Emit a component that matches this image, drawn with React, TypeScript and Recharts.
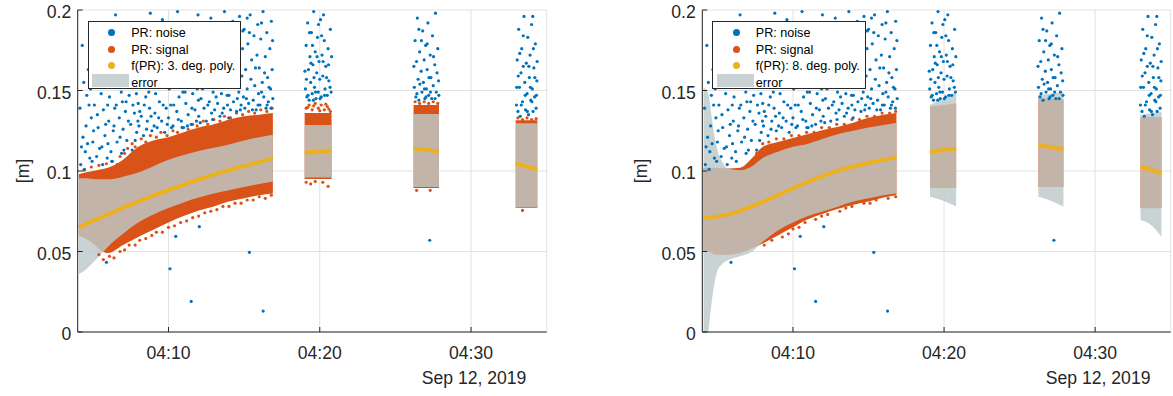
import React from "react";
import { Area, CartesianGrid, ComposedChart, Line, Scatter, XAxis, YAxis } from "recharts";

const INK = "#262626";
const BLUE = "#0072BD";
const ORANGE = "#D95319";
const YELLOW = "#EDB120";
const BAND = "rgb(189,201,201)";
const FONT = "'Liberation Sans', Arial, Helvetica, sans-serif";

// minutes after 04:00
const xTicks = [10, 20, 30];
const xTickLabels = ["04:10", "04:20", "04:30"];
const dateLabel = "Sep 12, 2019";
const yTicks = [0, 0.05, 0.1, 0.15, 0.2];
const yTickLabels = ["0", "0.05", "0.1", "0.15", "0.2"];
const legendLeft = ["PR: noise", "PR: signal", "f(PR): 3. deg. poly.", "error"];
const legendRight = ["PR: noise", "PR: signal", "f(PR): 8. deg. poly.", "error"];

// PR noise [minute, m]
const noiseRun1 = [
  [4.2, 0.104], [4.3, 0.178], [4.35, 0.121], [4.5, 0.112], [4.6, 0.147], [4.7, 0.163], [4.8, 0.108], [4.9, 0.133], [5.0, 0.118],
  [5.1, 0.141], [5.2, 0.152], [5.25, 0.109], [5.35, 0.127], [5.4, 0.192], [5.5, 0.168], [5.6, 0.115], [5.7, 0.138], [5.8, 0.122], [5.9, 0.157], [5.95, 0.108],
  [6.05, 0.131], [6.1, 0.146], [6.2, 0.112], [6.3, 0.174], [6.35, 0.125], [6.45, 0.139], [6.5, 0.197], [6.6, 0.118], [6.7, 0.152], [6.75, 0.133], [6.85, 0.165], [6.9, 0.111], [6.95, 0.143],
  [7.0, 0.126], [7.1, 0.158], [7.15, 0.137], [7.25, 0.119], [7.3, 0.184], [7.4, 0.147], [7.5, 0.129], [7.55, 0.171], [7.6, 0.113], [7.7, 0.153], [7.75, 0.136], [7.85, 0.192], [7.9, 0.124], [7.95, 0.162],
  [8.0, 0.142], [8.05, 0.128], [8.15, 0.176], [8.2, 0.134], [8.3, 0.155], [8.35, 0.122], [8.45, 0.187], [8.5, 0.146], [8.6, 0.131], [8.65, 0.166], [8.75, 0.139], [8.8, 0.198], [8.9, 0.125], [8.95, 0.152],
  [9.0, 0.171], [9.1, 0.136], [9.15, 0.148], [9.25, 0.127], [9.3, 0.182], [9.4, 0.143], [9.45, 0.161], [9.55, 0.131], [9.6, 0.194], [9.7, 0.152], [9.75, 0.124], [9.85, 0.139], [9.9, 0.176], [9.95, 0.158],
  [10.0, 0.133], [10.1, 0.165], [10.15, 0.141], [10.25, 0.186], [10.3, 0.128], [10.4, 0.154], [10.45, 0.172], [10.55, 0.137], [10.6, 0.199], [10.7, 0.146], [10.75, 0.162], [10.85, 0.131], [10.9, 0.181], [10.95, 0.149],
  [11.0, 0.127], [11.05, 0.168], [11.15, 0.142], [11.2, 0.192], [11.3, 0.135], [11.35, 0.157], [11.45, 0.176], [11.5, 0.129], [11.6, 0.148], [11.65, 0.185], [11.75, 0.138], [11.8, 0.163], [11.9, 0.151], [11.95, 0.197],
  [12.0, 0.134], [12.05, 0.172], [12.15, 0.145], [12.2, 0.158], [12.3, 0.189], [12.35, 0.139], [12.45, 0.166], [12.5, 0.131], [12.55, 0.152], [12.65, 0.179], [12.7, 0.143], [12.8, 0.195], [12.85, 0.136], [12.9, 0.161], [12.95, 0.149],
  [13.0, 0.183], [13.05, 0.138], [13.1, 0.156], [13.2, 0.171], [13.25, 0.142], [13.3, 0.192], [13.4, 0.134], [13.45, 0.164], [13.5, 0.148], [13.6, 0.177], [13.65, 0.139], [13.7, 0.199], [13.8, 0.153], [13.85, 0.168], [13.9, 0.141], [13.95, 0.186],
  [14.0, 0.147], [14.05, 0.174], [14.1, 0.138], [14.2, 0.161], [14.25, 0.193], [14.3, 0.143], [14.4, 0.155], [14.45, 0.181], [14.5, 0.137], [14.6, 0.168], [14.65, 0.149], [14.7, 0.196], [14.8, 0.141], [14.85, 0.159], [14.9, 0.176], [14.95, 0.146],
  [15.0, 0.188], [15.05, 0.139], [15.1, 0.163], [15.2, 0.151], [15.25, 0.179], [15.3, 0.142], [15.4, 0.197], [15.45, 0.157], [15.5, 0.169], [15.6, 0.144], [15.65, 0.184], [15.7, 0.153], [15.8, 0.138], [15.85, 0.172], [15.9, 0.191], [15.95, 0.148],
  [16.0, 0.164], [16.05, 0.141], [16.1, 0.182], [16.2, 0.155], [16.25, 0.199], [16.3, 0.146], [16.4, 0.171], [16.45, 0.139], [16.5, 0.186], [16.55, 0.158], [16.6, 0.143], [16.7, 0.176], [16.75, 0.151], [16.8, 0.193], [16.85, 0.163], [16.9, 0.145],
];
const noiseRun1b = [
  [4.15, 0.139], [4.25, 0.115], [4.4, 0.155], [4.45, 0.101], [4.55, 0.128], [4.65, 0.117], [4.75, 0.141], [4.85, 0.151], [4.95, 0.106], [5.05, 0.125],
  [5.15, 0.163], [5.3, 0.135], [5.45, 0.114], [5.55, 0.148], [5.65, 0.104], [5.75, 0.181], [5.85, 0.129], [5.98, 0.141],
  [6.0, 0.117], [6.15, 0.162], [6.25, 0.106], [6.4, 0.128], [6.55, 0.141], [6.65, 0.183], [6.8, 0.121], [6.88, 0.149], [7.05, 0.113], [7.2, 0.143],
  [7.35, 0.131], [7.45, 0.166], [7.65, 0.141], [7.8, 0.119], [7.88, 0.148], [7.98, 0.131],
  [8.1, 0.137], [8.25, 0.161], [8.4, 0.141], [8.55, 0.126], [8.7, 0.149], [8.85, 0.134], [8.98, 0.181], [9.05, 0.128], [9.2, 0.157], [9.35, 0.133],
  [9.5, 0.172], [9.65, 0.141], [9.8, 0.187], [9.92, 0.129],
  [10.05, 0.151], [10.2, 0.127], [10.35, 0.141], [10.5, 0.163], [10.65, 0.132], [10.8, 0.155], [10.92, 0.127], [11.1, 0.149], [11.25, 0.128], [11.4, 0.171],
  [11.55, 0.139], [11.7, 0.159], [11.85, 0.131], [11.98, 0.144],
  [12.1, 0.13], [12.25, 0.151], [12.4, 0.177], [12.6, 0.141], [12.75, 0.162], [12.92, 0.132], [13.15, 0.146], [13.35, 0.157], [13.55, 0.136], [13.75, 0.181],
  [13.88, 0.147], [13.98, 0.133],
  [14.15, 0.153], [14.35, 0.168], [14.55, 0.145], [14.75, 0.138], [14.92, 0.187], [15.15, 0.145], [15.35, 0.186], [15.55, 0.138], [15.75, 0.164], [15.92, 0.141],
  [16.15, 0.149], [16.35, 0.161], [16.52, 0.141], [16.65, 0.152], [16.78, 0.139], [16.88, 0.181], [16.15, 0.192], [15.2, 0.195], [14.4, 0.19], [13.1, 0.188],
  [12.15, 0.185], [11.25, 0.19], [10.35, 0.192], [9.45, 0.19],
];
const noiseRun2 = [
  [19.05, 0.151], [19.1, 0.178], [19.15, 0.146], [19.2, 0.192], [19.25, 0.163], [19.3, 0.144], [19.35, 0.171], [19.4, 0.155], [19.45, 0.186], [19.5, 0.148], [19.55, 0.166],
  [19.6, 0.199], [19.65, 0.152], [19.7, 0.174], [19.75, 0.145], [19.8, 0.161], [19.85, 0.183], [19.9, 0.149], [19.95, 0.168], [20.0, 0.157], [20.05, 0.194], [20.1, 0.146],
  [20.15, 0.172], [20.2, 0.159], [20.3, 0.181], [20.35, 0.151], [20.4, 0.165], [20.5, 0.147], [20.55, 0.176], [20.6, 0.156], [20.7, 0.188], [20.75, 0.149],
  [19.02, 0.162], [19.12, 0.157], [19.22, 0.147], [19.32, 0.186], [19.42, 0.167], [19.52, 0.178], [19.62, 0.158], [19.72, 0.149], [19.82, 0.171], [19.92, 0.191],
  [20.02, 0.145], [20.12, 0.184], [20.22, 0.168], [20.32, 0.147], [20.45, 0.158], [20.58, 0.166], [20.68, 0.152], [20.78, 0.171], [19.58, 0.144], [20.25, 0.197],
];
const noiseRun3 = [
  [26.25, 0.152], [26.3, 0.181], [26.35, 0.146], [26.4, 0.168], [26.45, 0.195], [26.5, 0.157], [26.55, 0.144], [26.6, 0.174], [26.7, 0.162], [26.75, 0.149],
  [26.8, 0.187], [26.85, 0.155], [26.9, 0.169], [26.95, 0.145], [27.0, 0.178], [27.05, 0.151], [27.1, 0.163], [27.15, 0.192], [27.2, 0.147], [27.3, 0.172],
  [27.35, 0.158], [27.4, 0.145], [27.45, 0.184], [27.5, 0.153], [27.6, 0.166], [27.65, 0.198], [27.7, 0.149], [27.8, 0.176], [27.85, 0.156],
  [26.22, 0.165], [26.42, 0.148], [26.62, 0.154], [26.72, 0.181], [26.92, 0.151], [27.02, 0.146], [27.22, 0.158], [27.32, 0.149], [27.52, 0.171], [27.62, 0.145],
  [27.75, 0.161], [27.87, 0.147], [26.55, 0.188], [27.1, 0.179],
];
const noiseRun4 = [
  [33.0, 0.141], [33.05, 0.169], [33.1, 0.137], [33.15, 0.188], [33.2, 0.152], [33.25, 0.134], [33.3, 0.161], [33.35, 0.176], [33.4, 0.143], [33.5, 0.196],
  [33.55, 0.155], [33.6, 0.138], [33.65, 0.167], [33.7, 0.148], [33.75, 0.183], [33.8, 0.135], [33.85, 0.158], [33.9, 0.172], [33.95, 0.144], [34.0, 0.191],
  [34.05, 0.151], [34.1, 0.137], [34.15, 0.164], [34.2, 0.146], [34.25, 0.179], [34.3, 0.139], [34.35, 0.156],
  [33.02, 0.152], [33.12, 0.159], [33.22, 0.173], [33.32, 0.141], [33.45, 0.165], [33.58, 0.147], [33.72, 0.137], [33.82, 0.165], [33.92, 0.152], [34.02, 0.143],
  [34.12, 0.176], [34.22, 0.158], [34.32, 0.147], [34.37, 0.168], [33.45, 0.184], [34.08, 0.196],
];
const noiseStray = [
  [5.9, 0.0433], [10.1, 0.0393], [10.48, 0.0594], [11.5, 0.019], [12.04, 0.0654], [15.35, 0.0495], [16.26, 0.013], [27.27, 0.057],
];

// runs: [minute, errLo, errHi, signalLo, signalHi, fit]
const leftRun1 = [
  [4.08, 0.036, 0.0955, 0.06, 0.098, 0.065],
  [4.5, 0.0385, 0.0955, 0.058, 0.099, 0.0668],
  [5, 0.043, 0.095, 0.055, 0.1, 0.069],
  [5.5, 0.048, 0.0948, 0.051, 0.101, 0.071],
  [6, 0.053, 0.0948, 0.049, 0.102, 0.073],
  [7, 0.061, 0.0965, 0.054, 0.107, 0.0772],
  [8, 0.068, 0.099, 0.059, 0.115, 0.081],
  [9, 0.073, 0.103, 0.0635, 0.119, 0.0847],
  [10, 0.077, 0.107, 0.068, 0.121, 0.0882],
  [11, 0.0805, 0.11, 0.072, 0.124, 0.0916],
  [12, 0.0835, 0.1125, 0.0755, 0.127, 0.0948],
  [13, 0.086, 0.1145, 0.078, 0.129, 0.0978],
  [14, 0.088, 0.1165, 0.081, 0.132, 0.1005],
  [15, 0.09, 0.119, 0.083, 0.134, 0.103],
  [16, 0.092, 0.121, 0.085, 0.135, 0.1055],
  [16.9, 0.0935, 0.1225, 0.086, 0.136, 0.108],
];
const leftRun2 = [
  [19.0, 0.096, 0.1286, 0.095, 0.136, 0.1114],
  [19.9, 0.096, 0.1286, 0.095, 0.136, 0.1121],
  [20.78, 0.096, 0.1286, 0.095, 0.136, 0.1128],
];
const leftRun3 = [
  [26.2, 0.09, 0.1354, 0.0895, 0.141, 0.1139],
  [27.05, 0.09, 0.1354, 0.0895, 0.141, 0.1131],
  [27.88, 0.09, 0.1354, 0.0895, 0.141, 0.1122],
];
const leftRun4 = [
  [32.95, 0.0774, 0.1296, 0.077, 0.1315, 0.1048],
  [33.65, 0.0774, 0.1296, 0.077, 0.1315, 0.1029],
  [34.38, 0.0774, 0.1296, 0.077, 0.1315, 0.101],
];

const rightRun1 = [
  [4.08, -0.02, 0.152, 0.05, 0.102, 0.0712],
  [4.4, 0.0, 0.148, 0.05, 0.102, 0.0712],
  [4.6, 0.017, 0.135, 0.049, 0.102, 0.0713],
  [4.8, 0.03, 0.122, 0.048, 0.102, 0.0715],
  [5.0, 0.038, 0.113, 0.048, 0.102, 0.0718],
  [5.3, 0.042, 0.106, 0.048, 0.1018, 0.0722],
  [5.7, 0.0445, 0.1015, 0.048, 0.1016, 0.0729],
  [6.5, 0.047, 0.1005, 0.049, 0.102, 0.0752],
  [7.3, 0.05, 0.103, 0.052, 0.108, 0.0782],
  [8, 0.056, 0.108, 0.055, 0.115, 0.0808],
  [9, 0.063, 0.112, 0.06, 0.118, 0.085],
  [10, 0.068, 0.115, 0.065, 0.1205, 0.0893],
  [11, 0.072, 0.117, 0.07, 0.123, 0.0933],
  [12, 0.075, 0.12, 0.0735, 0.1255, 0.097],
  [13, 0.078, 0.123, 0.0765, 0.1275, 0.1002],
  [14, 0.081, 0.125, 0.079, 0.13, 0.1028],
  [15, 0.083, 0.127, 0.081, 0.133, 0.105],
  [16, 0.085, 0.1285, 0.0835, 0.135, 0.107],
  [16.85, 0.086, 0.13, 0.085, 0.136, 0.1083],
];
const rightRun2 = [
  [19.07, 0.084, 0.141, 0.0894, 0.14, 0.112],
  [19.95, 0.0815, 0.145, 0.0894, 0.141, 0.113],
  [20.8, 0.078, 0.149, 0.0894, 0.142, 0.114],
];
const rightRun3 = [
  [26.24, 0.084, 0.147, 0.09, 0.1445, 0.116],
  [27.07, 0.0815, 0.148, 0.09, 0.145, 0.1148],
  [27.9, 0.078, 0.149, 0.09, 0.1445, 0.1135],
];
const rightRun4 = [
  [33.0, 0.0696, 0.1348, 0.0768, 0.1335, 0.1027],
  [33.7, 0.0665, 0.1358, 0.0768, 0.1335, 0.1007],
  [34.39, 0.0592, 0.1368, 0.0768, 0.1335, 0.0986],
];

// ragged edges of the signal cloud
const leftSignalEdge = [
  [4.4, 0.1005], [4.9, 0.1025], [5.4, 0.1035], [5.9, 0.1045], [6.3, 0.106], [6.6, 0.104], [6.8, 0.109], [7.1, 0.111], [7.3, 0.114], [7.6, 0.117],
  [7.8, 0.115], [8.2, 0.12], [8.5, 0.118], [8.8, 0.122], [9.2, 0.121], [9.5, 0.124], [9.9, 0.122], [10.3, 0.125], [10.6, 0.124], [10.9, 0.127],
  [11.3, 0.126], [11.6, 0.129], [11.9, 0.128], [12.3, 0.131], [12.6, 0.129], [13.0, 0.132], [13.4, 0.131], [13.7, 0.134], [14.1, 0.133], [14.5, 0.136],
  [14.9, 0.135], [15.3, 0.137], [15.7, 0.136], [16.1, 0.138], [16.5, 0.137], [16.85, 0.139],
  [5.4, 0.048], [5.7, 0.045], [6.1, 0.047], [6.4, 0.046], [6.8, 0.05], [7.1, 0.051], [7.4, 0.054], [7.8, 0.054], [8.1, 0.057], [8.5, 0.058],
  [8.9, 0.06], [9.2, 0.062], [9.6, 0.062], [10.0, 0.065], [10.4, 0.066], [10.8, 0.068], [11.2, 0.069], [11.6, 0.071], [12.0, 0.072], [12.4, 0.074],
  [12.8, 0.075], [13.2, 0.076], [13.6, 0.078], [14.0, 0.078], [14.4, 0.08], [14.8, 0.08], [15.2, 0.082], [15.6, 0.082], [16.0, 0.084], [16.4, 0.083],
  [16.8, 0.085],
  [19.1, 0.139], [19.3, 0.141], [19.5, 0.138], [19.7, 0.142], [19.9, 0.139], [20.1, 0.141], [20.3, 0.138], [20.5, 0.14], [20.7, 0.137],
  [19.2, 0.1395], [19.6, 0.1405], [20.0, 0.1375], [20.4, 0.1415], [20.6, 0.1385],
  [19.1, 0.093], [19.4, 0.092], [19.7, 0.0935], [20.2, 0.093], [20.55, 0.0905],
  [26.3, 0.143], [26.6, 0.142], [26.9, 0.143], [27.2, 0.142], [27.5, 0.143], [27.8, 0.142], [26.4, 0.088], [27.3, 0.088],
  [33.1, 0.133], [33.4, 0.132], [33.7, 0.133], [34.0, 0.132], [34.3, 0.1325], [33.4, 0.0755],
];
const rightSignalEdge = [
  [8.1, 0.054], [8.6, 0.057], [9.3, 0.059], [9.7, 0.061], [10.0, 0.064], [10.4, 0.065], [10.8, 0.068], [11.5, 0.07], [11.9, 0.072], [12.3, 0.073],
  [13.1, 0.075], [13.5, 0.077], [13.9, 0.078], [14.7, 0.08], [15.1, 0.08], [15.5, 0.082], [16.3, 0.083], [16.8, 0.084],
  [7.6, 0.111], [8.0, 0.117], [8.4, 0.118], [8.9, 0.12], [9.4, 0.12], [9.9, 0.122], [10.4, 0.122], [10.9, 0.124], [11.4, 0.124], [11.9, 0.127],
  [12.4, 0.127], [12.9, 0.129], [13.4, 0.129], [13.9, 0.132], [14.4, 0.132], [14.9, 0.134], [15.4, 0.134], [15.9, 0.136], [16.4, 0.136], [16.8, 0.137],
];

const toPts = (a: number[][]) => a.map(([m, v]) => ({ m, v }));
const noisePts = toPts([...noiseRun1, ...noiseRun1b, ...noiseRun2, ...noiseRun3, ...noiseRun4, ...noiseStray]);

function buildRows(runs: number[][][]) {
  const rows: any[] = [];
  runs.forEach((run, i) => {
    if (i > 0) {
      const prev = runs[i - 1];
      rows.push({ m: (prev[prev.length - 1][0] + run[0][0]) / 2, err: null, sig: null, fit: null });
    }
    run.forEach(([m, eLo, eHi, sLo, sHi, f]) => rows.push({ m, err: [eLo, eHi], sig: [sLo, sHi], fit: f }));
  });
  return rows;
}

const dot = (color: string) => (p: any) => <circle cx={p.cx} cy={p.cy} r={1.6} fill={color} />;

function TimeTick(props: any) {
  const { x, y, payload } = props;
  const i = xTicks.indexOf(payload.value);
  return (
    <g fontFamily={FONT} fontSize={17.6} fill={INK}>
      <text x={x} y={y + 27} textAnchor="middle">{xTickLabels[i]}</text>
      {i === xTicks.length - 1 && (
        <text x={x + 3} y={y + 52} textAnchor="middle">{dateLabel}</text>
      )}
    </g>
  );
}

function ValueTick(props: any) {
  const { x, y, payload } = props;
  return (
    <text x={x} y={y + 8.3} textAnchor="end" fontFamily={FONT} fontSize={17.6} fill={INK}>
      {yTickLabels[yTicks.indexOf(payload.value)]}
    </text>
  );
}

function LegendBox({ left, labels }: { left: number; labels: string[] }) {
  const colors = [BLUE, ORANGE, YELLOW];
  const rowY = [11.3, 28.3, 44.3];
  return (
    <div
      style={{
        position: "absolute", left, top: 20.7, width: 153.5, height: 68.6, boxSizing: "border-box",
        border: `1px solid ${INK}`, background: "#fff", fontFamily: FONT, fontSize: 12.6, color: "#000",
      }}
    >
      {colors.map((c, i) => (
        <React.Fragment key={i}>
          <div style={{ position: "absolute", left: 19.5, top: rowY[i] - 4, width: 7, height: 7, borderRadius: 4, background: c }} />
          <div style={{ position: "absolute", left: 42.5, top: rowY[i] - 8, lineHeight: "16px", whiteSpace: "nowrap" }}>{labels[i]}</div>
        </React.Fragment>
      ))}
      <div style={{ position: "absolute", left: 3.5, top: 52.5, width: 37, height: 13, background: "rgb(201,211,211)" }} />
      <div style={{ position: "absolute", left: 42.5, top: 53, lineHeight: "16px" }}>{labels[3]}</div>
    </div>
  );
}

function Panel({ rows, edge, left, width, marginLeft, marginRight }: any) {
  return (
    <div style={{ position: "absolute", left, top: 0 }}>
      <ComposedChart width={width} height={396} data={rows} margin={{ top: 10, right: marginRight, bottom: 34, left: marginLeft }}>
        <CartesianGrid stroke="#e2e2e2" />
        <XAxis
          dataKey="m" type="number" domain={[4, 35]} ticks={xTicks} interval={0} allowDataOverflow
          height={30} tickSize={-5} tickMargin={5} tick={<TimeTick />}
          axisLine={{ stroke: INK }} tickLine={{ stroke: INK }}
        />
        <XAxis
          xAxisId="top" orientation="top" dataKey="m" type="number" domain={[4, 35]} ticks={xTicks} interval={0}
          height={0} tickSize={-5} tick={false} axisLine={{ stroke: INK }} tickLine={{ stroke: INK }}
        />
        <YAxis
          type="number" domain={[0, 0.2]} ticks={yTicks} interval={0} allowDataOverflow width={70}
          tickSize={-5} tickMargin={11.5} tick={<ValueTick />} axisLine={{ stroke: INK }} tickLine={{ stroke: INK }}
        />
        <YAxis
          yAxisId="right" orientation="right" type="number" domain={[0, 0.2]} ticks={yTicks} interval={0} width={0}
          tickSize={-5} tick={false} axisLine={{ stroke: INK }} tickLine={{ stroke: INK }}
        />
        <Area dataKey="sig" type="monotone" stroke="none" fill={ORANGE} fillOpacity={1} isAnimationActive={false} />
        <Scatter data={toPts(edge)} dataKey="v" shape={dot(ORANGE)} isAnimationActive={false} />
        <Scatter data={noisePts} dataKey="v" shape={dot(BLUE)} isAnimationActive={false} />
        <Area dataKey="err" type="monotone" stroke="none" fill={BAND} fillOpacity={0.82} isAnimationActive={false} />
        <Line dataKey="fit" type="monotone" stroke={YELLOW} strokeWidth={4} dot={false} isAnimationActive={false} />
      </ComposedChart>
    </div>
  );
}

function AxisName({ x }: { x: number }) {
  return (
    <div
      style={{
        position: "absolute", left: x, top: 171, transform: "translate(-50%, -50%) rotate(-90deg)",
        fontFamily: FONT, fontSize: 17.6, color: INK, lineHeight: 1, whiteSpace: "nowrap",
      }}
    >
      [m]
    </div>
  );
}

export default function App() {
  return (
    <div style={{ position: "absolute", left: 0, top: 0, width: 1173, height: 396, background: "#fff", overflow: "hidden" }}>
      <Panel rows={buildRows([leftRun1, leftRun2, leftRun3, leftRun4])} edge={leftSignalEdge} left={0} width={560} marginLeft={7.7} marginRight={13.3} />
      <Panel rows={buildRows([rightRun1, rightRun2, rightRun3, rightRun4])} edge={rightSignalEdge} left={600} width={573} marginLeft={32.3} marginRight={2.3} />
      <AxisName x={23.5} />
      <AxisName x={642} />
      <LegendBox left={87.7} labels={legendLeft} />
      <LegendBox left={712.3} labels={legendRight} />
    </div>
  );
}
